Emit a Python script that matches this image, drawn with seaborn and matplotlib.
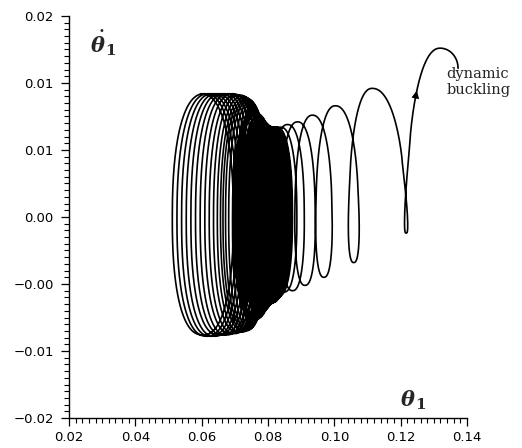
import numpy as np
import pandas as pd
import matplotlib
matplotlib.use("Agg")
import matplotlib.pyplot as plt
from matplotlib.ticker import FixedLocator, MultipleLocator
import seaborn as sns

# ---------------- data ----------------
# theta1 at the instant of maximum rate, one entry per oscillation cycle
cycle_center = [
    # early, well separated cycles
    0.0597, 0.0609, 0.0621, 0.0633, 0.0645, 0.0657, 0.0669, 0.0681, 0.0693, 0.0704,
    0.0714, 0.0722, 0.0729,
    # long dense stretch
    0.0734, 0.0737, 0.0739, 0.0742, 0.0744, 0.0747, 0.0749, 0.0751, 0.0754, 0.0756,
    0.0757, 0.0759, 0.0761, 0.0763, 0.0764, 0.0766, 0.0767, 0.0769, 0.0770, 0.0772,
    0.0773, 0.0774, 0.0776, 0.0777, 0.0778, 0.0779, 0.0781, 0.0782, 0.0783, 0.0784,
    0.0785, 0.0786, 0.0787, 0.0788, 0.0789, 0.0790, 0.0791, 0.0792, 0.0793, 0.0794,
    0.0795, 0.0796, 0.0797, 0.0798, 0.0799, 0.0800, 0.0801, 0.0802, 0.0803, 0.0804,
    0.0805, 0.0806, 0.0807, 0.0808, 0.0809, 0.0810, 0.0811, 0.0812, 0.0813, 0.0814,
    0.0815, 0.0816, 0.0817, 0.0818, 0.0819, 0.0820, 0.0821, 0.0822, 0.0824, 0.0826,
    # drifting cycles up to buckling
    0.0838, 0.0859, 0.0889, 0.0934, 0.1003, 0.1114, 0.1319,
]
# half of the theta1 excursion in each cycle
cycle_halfwidth = [
    0.0096, 0.0094, 0.0092, 0.0090, 0.0088, 0.0086, 0.0084, 0.0082, 0.0080, 0.0078,
    0.0075, 0.0072, 0.0070,
    0.0068, 0.0063, 0.0055, 0.0046, 0.0036, 0.0028, 0.0024, 0.0029, 0.0038, 0.0048,
    0.0057, 0.0064, 0.0066, 0.0061, 0.0052, 0.0042, 0.0033, 0.0026, 0.0025, 0.0032,
    0.0041, 0.0051, 0.0059, 0.0064, 0.0063, 0.0057, 0.0048, 0.0039, 0.0030, 0.0025,
    0.0027, 0.0035, 0.0044, 0.0053, 0.0060, 0.0062, 0.0058, 0.0050, 0.0041, 0.0033,
    0.0027, 0.0026, 0.0031, 0.0039, 0.0047, 0.0054, 0.0058, 0.0057, 0.0051, 0.0044,
    0.0036, 0.0030, 0.0028, 0.0031, 0.0037, 0.0044, 0.0050, 0.0054, 0.0054, 0.0050,
    0.0045, 0.0040, 0.0037, 0.0037, 0.0040, 0.0044, 0.0047, 0.0048, 0.0047, 0.0045,
    0.0044, 0.0043, 0.0042, 0.0041, 0.0040, 0.0039, 0.0040,
]
# maximum d(theta1)/dt of each cycle
cycle_peak = [
    0.0092, 0.0092, 0.0092, 0.0092, 0.0092, 0.0092, 0.0092, 0.0092, 0.0092, 0.0091,
    0.0091, 0.0090, 0.0089,
    0.0088, 0.0087, 0.0086, 0.0085, 0.0084, 0.0083, 0.0082, 0.0081, 0.0080, 0.0079,
    0.0078, 0.0078, 0.0077, 0.0076, 0.0076, 0.0075, 0.0075, 0.0074, 0.0074, 0.0073,
    0.0073, 0.0072, 0.0072, 0.0072, 0.0071, 0.0071, 0.0071, 0.0070, 0.0070, 0.0070,
    0.0070, 0.0069, 0.0069, 0.0069, 0.0069, 0.0069, 0.0068, 0.0068, 0.0068, 0.0068,
    0.0068, 0.0068, 0.0068, 0.0068, 0.0068, 0.0068, 0.0067, 0.0067, 0.0067, 0.0067,
    0.0067, 0.0067, 0.0067, 0.0067, 0.0067, 0.0067, 0.0067, 0.0067, 0.0067, 0.0067,
    0.0067, 0.0067, 0.0067, 0.0067, 0.0067, 0.0067, 0.0067, 0.0067, 0.0067, 0.0067,
    0.0067, 0.0069, 0.0071, 0.0076, 0.0083, 0.0096, 0.0126,
]
# minimum d(theta1)/dt between consecutive peaks
cycle_trough = [
    -0.0088, -0.0089, -0.0089, -0.0089, -0.0088, -0.0088, -0.0088, -0.0087, -0.0087, -0.0086,
    -0.0086, -0.0085, -0.0085,
    -0.0084, -0.0083, -0.0082, -0.0081, -0.0080, -0.0079, -0.0079, -0.0078, -0.0078, -0.0077,
    -0.0077, -0.0076, -0.0076, -0.0075, -0.0075, -0.0074, -0.0074, -0.0073, -0.0073, -0.0072,
    -0.0072, -0.0071, -0.0071, -0.0070, -0.0070, -0.0069, -0.0069, -0.0069, -0.0068, -0.0068,
    -0.0068, -0.0067, -0.0067, -0.0067, -0.0067, -0.0066, -0.0066, -0.0066, -0.0066, -0.0066,
    -0.0065, -0.0065, -0.0065, -0.0065, -0.0065, -0.0065, -0.0065, -0.0064, -0.0064, -0.0064,
    -0.0064, -0.0064, -0.0064, -0.0064, -0.0064, -0.0064, -0.0064, -0.0063, -0.0063, -0.0063,
    -0.0063, -0.0063, -0.0063, -0.0062, -0.0062, -0.0062, -0.0061, -0.0061, -0.0060, -0.0059,
    -0.0056, -0.0055, -0.0051, -0.0045, -0.0034, -0.0012,
]
# last point of the trajectory
end_theta = 0.1373
end_rate = 0.0111

x_ticks = [0.02, 0.04, 0.06, 0.08, 0.10, 0.12, 0.14]
x_tick_labels = ["0.02", "0.04", "0.06", "0.08", "0.10", "0.12", "0.14"]
y_ticks = [0.015, 0.010, 0.005, 0.0, -0.005, -0.010, -0.015]
y_tick_labels = ["0.02", "0.01", "0.01", "0.00", "\u22120.00", "\u22120.01", "\u22120.02"]
annotation_text = "dynamic\nbuckling"

# ---------------- build the trajectory from the cycle data ----------------
M = 360
SHAPE = 0.85  # loop squareness (1 = ellipse)


def spow(v):
    return np.sign(v) * np.abs(v) ** SHAPE


xs, ys = [], []
n = len(cycle_center)
for k in range(n - 1):
    phi = np.linspace(0, 2 * np.pi, M, endpoint=False)
    frac = phi / (2 * np.pi)
    c = cycle_center[k] + (cycle_center[k + 1] - cycle_center[k]) * frac
    a = cycle_halfwidth[k] + (cycle_halfwidth[k + 1] - cycle_halfwidth[k]) * frac
    p0, t0, p1 = cycle_peak[k], cycle_trough[k], cycle_peak[k + 1]
    cs = spow(np.cos(phi))
    y = np.where(phi <= np.pi,
                 (p0 + t0) / 2 + (p0 - t0) / 2 * cs,
                 (p1 + t0) / 2 + (p1 - t0) / 2 * cs)
    xs.append(c + a * spow(np.sin(phi)))
    ys.append(y)
s = np.linspace(0, 1, 60)
xs.append(cycle_center[-1] + (end_theta - cycle_center[-1]) * np.sin(s * np.pi / 2))
ys.append(cycle_peak[-1] - (cycle_peak[-1] - end_rate) * (1 - np.cos(s * np.pi / 2)))
theta = np.concatenate(xs)
rate = np.concatenate(ys)
df = pd.DataFrame({"theta": theta, "rate": rate})

# ---------------- figure ----------------
sns.set_theme(style="ticks")
plt.rcParams["font.family"] = ["DejaVu Sans"]

fig = plt.figure(figsize=(5.22, 4.48), dpi=100)
ax = fig.add_axes([69 / 522, 30 / 448, 398 / 522, 402 / 448])

sns.lineplot(data=df, x="theta", y="rate", sort=False, estimator=None,
             color="black", linewidth=1.2, ax=ax, legend=False)

# arrow head on the final rising branch
last_rise_start = (n - 2) * M + M // 2
seg = rate[last_rise_start:(n - 1) * M]
i = last_rise_start + int(np.argmin(np.abs(seg - 0.0094)))
ax.annotate("", xy=(theta[i], rate[i]), xytext=(theta[i - 6], rate[i - 6]),
            arrowprops=dict(arrowstyle="-|>", color="black", lw=0.8,
                            mutation_scale=11, shrinkA=0, shrinkB=0))

ax.set_xlim(0.02, 0.14)
ax.set_ylim(-0.015, 0.015)
ax.xaxis.set_major_locator(FixedLocator(x_ticks))
ax.set_xticklabels(x_tick_labels)
ax.yaxis.set_major_locator(FixedLocator(y_ticks))
ax.set_yticklabels(y_tick_labels)
ax.xaxis.set_minor_locator(MultipleLocator(0.002))
ax.yaxis.set_minor_locator(MultipleLocator(0.0005))
ax.tick_params(which="major", direction="out", length=6, width=0.9, color="black",
               labelsize=9.5, labelcolor="black", pad=3)
ax.tick_params(which="minor", direction="out", length=3.5, width=0.8, color="black")
ax.tick_params(axis="y", which="major", pad=5)
ax.set_xlabel("")
ax.set_ylabel("")
for side in ["top", "right"]:
    ax.spines[side].set_visible(False)
for side in ["left", "bottom"]:
    ax.spines[side].set_color("black")
    ax.spines[side].set_linewidth(1.0)
ax.set_facecolor("white")
fig.patch.set_facecolor("white")

serif = "DejaVu Serif"
# y-axis name: theta-dot with subscript 1
ax.text(0.073, 0.925, "\u03b8", transform=ax.transAxes, family=serif,
        fontweight="bold", fontstyle="italic", fontsize=15, va="center", ha="center")
ax.text(0.081, 0.962, "\u2022", transform=ax.transAxes, family="DejaVu Sans",
        fontsize=7, va="center", ha="center")
ax.text(0.104, 0.912, "1", transform=ax.transAxes, family=serif,
        fontweight="bold", fontsize=11, va="center", ha="center")
# x-axis name: theta with subscript 1
ax.text(0.852, 0.045, "\u03b8", transform=ax.transAxes, family=serif,
        fontweight="bold", fontstyle="italic", fontsize=15, va="center", ha="center")
ax.text(0.884, 0.032, "1", transform=ax.transAxes, family=serif,
        fontweight="bold", fontsize=11, va="center", ha="center")
ax.text(0.1338, 0.0101, annotation_text, fontsize=10.5, family=serif,
        va="center", ha="left", linespacing=1.2, clip_on=False)

fig.savefig("out.png", dpi=100, facecolor="white")
